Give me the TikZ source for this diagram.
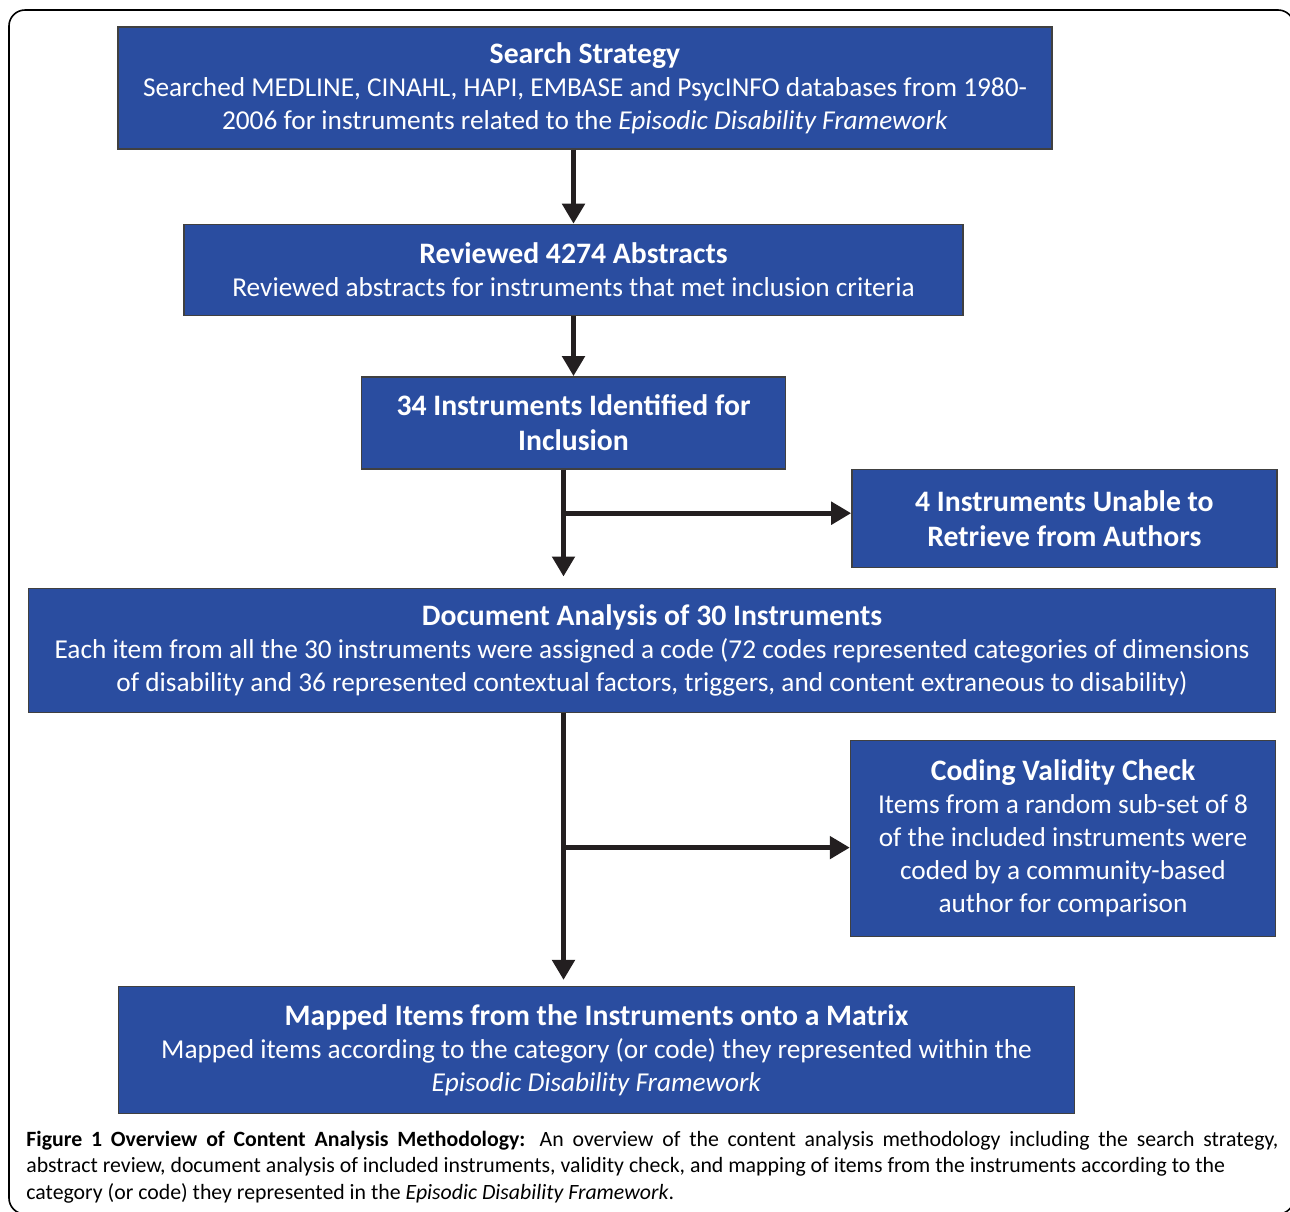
\documentclass[tikz,border=0pt]{standalone}
\usepackage{fontspec}
\setmainfont{Carlito}
\usepackage{tikz}
\usetikzlibrary{positioning}
\usetikzlibrary{arrows.meta}
\definecolor{boxblue}{RGB}{42,77,160}
\definecolor{arrowgray}{RGB}{35,31,32}
\newcommand{\boxtitle}[1]{{\fontsize{14.85}{16.5}\selectfont\bfseries #1}}

\begin{document}
\begin{tikzpicture}[
            > = {Triangle[width=11pt,length=10pt]}, % arrow head style
            flow/.style = {->, draw = arrowgray, line width = 2.5pt}
        ]

        \tikzstyle{flowbox}=[
            draw = black!75,
            line width = 0.7pt,
            fill = boxblue,
            text = white,
            align = center,
            inner sep = 0pt,
            font = \fontsize{13.65}{16.5}\selectfont
        ]
        \tikzstyle{boldbox}=[
            flowbox,
            font = \fontsize{14.85}{17.5}\selectfont\bfseries
        ]

        \clip (0pt,0pt) rectangle (645pt,-605.5pt);

        % outer frame
        \draw[line width = 0.8pt, rounded corners = 8pt] (4.5pt,-5pt) rectangle (647pt,-607pt);

	% search and review
        \node[flowbox, minimum width = 467pt, minimum height = 61pt] (S) at (292.5pt,-44pt)
            {\boxtitle{Search Strategy}\\Searched MEDLINE, CINAHL, HAPI, EMBASE and PsycINFO databases from 1980-\\2006 for instruments related to the \textit{Episodic Disability Framework}};
        \node[flowbox, minimum width = 389.5pt, minimum height = 45.5pt] (R) [below = 37pt of S, xshift = -5.75pt]
            {\boxtitle{Reviewed 4274 Abstracts}\\Reviewed abstracts for instruments that met inclusion criteria};

        \draw[flow] (S.south -| R.north) -- (R.north);

         % instruments
        \node[boldbox, minimum width = 212pt, minimum height = 46pt] (I) [below = 30pt of R]
            {34 Instruments Identified for\\Inclusion};
        \node[boldbox, minimum width = 212.5pt, minimum height = 49pt] (U) [right = 32.5pt of I.south east, anchor = north west, yshift = 0.5pt]
            {4 Instruments Unable to\\Retrieve from Authors};

        \draw[flow] (R.south) -- (I.north);

         % document analysis
        \node[flowbox, minimum width = 623.5pt, minimum height = 62pt] (D) [below = 59pt of I, xshift = 39.25pt]
            {\boxtitle{Document Analysis of 30 Instruments}\\Each item from all the 30 instruments were assigned a code (72 codes represented categories of dimensions\\of disability and 36 represented contextual factors, triggers, and content extraneous to disability)};

         \coordinate (a) at ([xshift = -5pt]I.south);
         \coordinate (a2) at ([yshift = 5.5pt]a |- D.north);
         \coordinate (b) at ([yshift = 2.5pt]U.west);
         \draw[flow] (a) -- (a2);
         \draw[flow] (a |- b) -- (b);

         % validity check and mapping
        \node[flowbox, minimum width = 212.5pt, minimum height = 98pt] (C) [below = 13.5pt of D.south east, anchor = north east]
            {\boxtitle{Coding Validity Check}\\Items from a random sub-set of 8\\of the included instruments were\\coded by a community-based\\author for comparison};
        \node[flowbox, minimum width = 478pt, minimum height = 63.5pt] (M) [below = 136.5pt of D.south west, anchor = north west, xshift = 45pt]
            {\boxtitle{Mapped Items from the Instruments onto a Matrix}\\Mapped items according to the category (or code) they represented within the\\\textit{Episodic Disability Framework}};

         \coordinate (c) at ([yshift = -4.5pt]C.west);
         \coordinate (m) at ([yshift = 3pt]a |- M.north);
         \draw[flow] (a |- D.south) -- (m);
         \draw[flow] (a |- c) -- (c);

         % caption
        \node[anchor = base west, text width = 626pt, align = justify, inner sep = 0pt, font = \fontsize{10.9}{13.25}\selectfont] (cap) at (13pt,-573pt)
            {\textbf{Figure 1 Overview of Content Analysis Methodology:} An overview of the content analysis methodology including the search strategy,\linebreak
             abstract review, document analysis of included instruments, validity check, and mapping of items from the instruments according to the\\
             category (or code) they represented in the \textit{Episodic Disability Framework}.};

\end{tikzpicture}
\end{document}
